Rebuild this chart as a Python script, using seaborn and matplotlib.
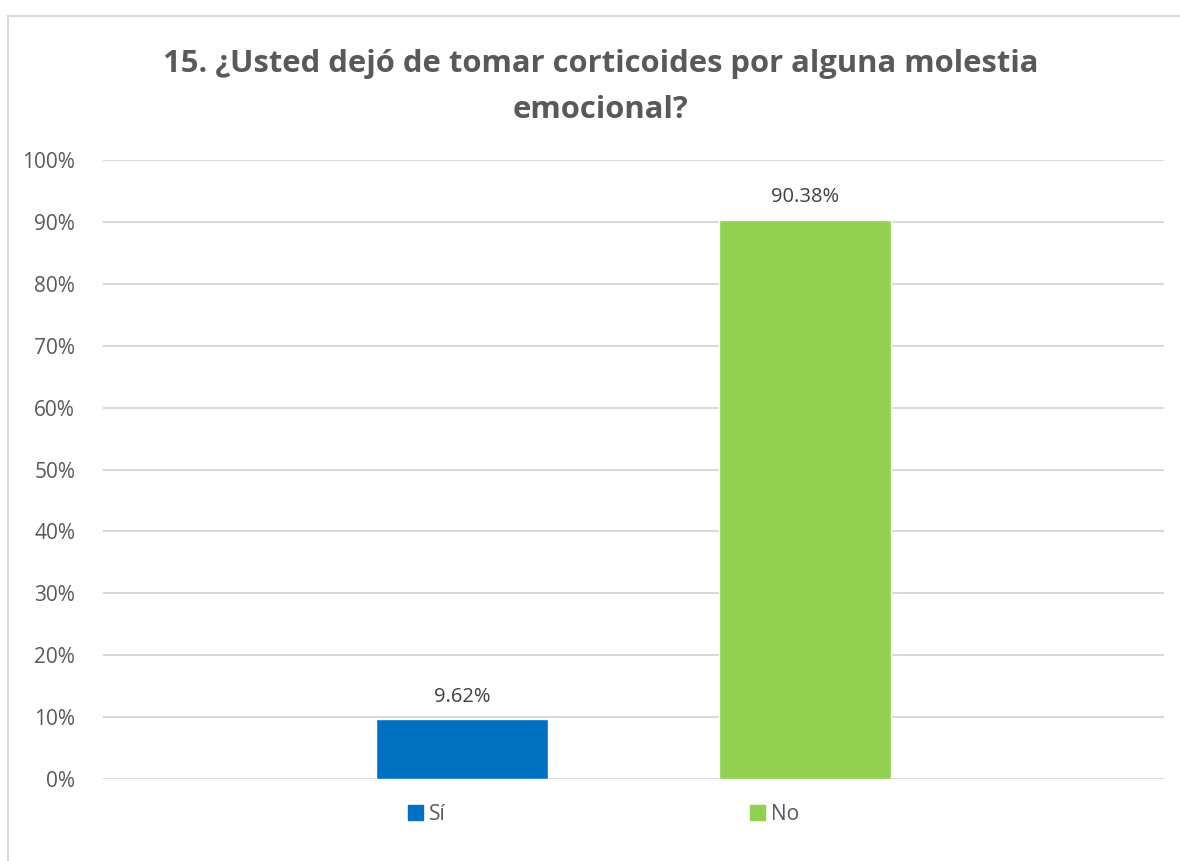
import matplotlib
matplotlib.use('Agg')
import matplotlib.pyplot as plt
import matplotlib.patches as mpatches
import seaborn as sns
import pandas as pd

respuestas = ['Sí', 'No']
porcentajes = [9.62, 90.38]
colores = ['#0070C0', '#92D050']
ticks_y = [0, 10, 20, 30, 40, 50, 60, 70, 80, 90, 100]

titulo = '15. ¿Usted dejó de tomar corticoides por alguna molestia\nemocional?'

df = pd.DataFrame({'respuesta': respuestas, 'valor': porcentajes})

sns.set_style('white')
plt.rcParams['font.family'] = ['Open Sans', 'DejaVu Sans']

fig = plt.figure(figsize=(11.8, 8.61), dpi=100)
ax = fig.add_axes([103 / 1180, 1 - 779 / 861, (1164 - 103) / 1180, (779 - 160) / 861])

sns.barplot(data=df, x='respuesta', y='valor', hue='respuesta', palette=colores,
            saturation=1, width=0.5, legend=False, ax=ax, zorder=3)

for cont in ax.containers:
    ax.bar_label(cont, labels=[f'{v:.2f}%' for v in cont.datavalues],
                 padding=9, fontsize=14.5, color='#404040')

ax.set_ylim(0, 100)
ax.set_xlim(-1.047, 2.047)
ax.set_yticks(ticks_y)
ax.set_yticklabels([f'{t}%' for t in ticks_y], fontsize=15, color='#595959')
ax.set_xticks([])
ax.set_xlabel('')
ax.set_ylabel('')
ax.tick_params(axis='y', length=0, pad=20)
ax.grid(axis='y', color='#D9D9D9', linewidth=1.5, zorder=0)
for s in ax.spines.values():
    s.set_visible(False)

fig.text(0.509, 1 - 87 / 861, titulo, ha='center', va='center', fontsize=22.3,
         fontweight='bold', color='#595959', linespacing=1.68)

# borde del area del grafico
fig.patches.append(mpatches.Rectangle((8 / 1180, -0.1), 1.2, 1 - 16 / 861 + 0.1,
                                      transform=fig.transFigure, fill=False,
                                      edgecolor='#D9D9D9', linewidth=1.5))

handles = [mpatches.Patch(color=c, label=r) for c, r in zip(colores, respuestas)]
fig.legend(handles=handles, loc='center', bbox_to_anchor=(0.5115, 1 - 814 / 861),
           ncol=2, frameon=False, fontsize=15, labelcolor='#595959',
           handlelength=0.7, handleheight=0.7, handletextpad=0.3, columnspacing=14.6)

fig.savefig('out.png', dpi=100)
